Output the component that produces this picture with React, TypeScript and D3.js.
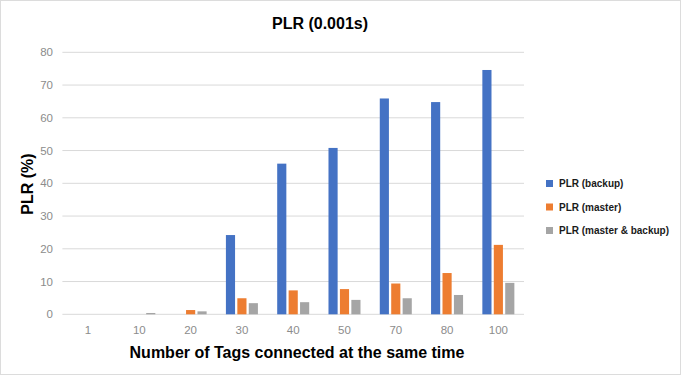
import React, { useEffect, useRef } from 'react';
import * as d3 from 'd3';

const categories = ['1', '10', '20', '30', '40', '50', '70', '80', '100'];
const backup = [0, 0, 0, 24.2, 46.0, 50.8, 65.9, 64.8, 74.6];
const master = [0, 0, 1.3, 4.9, 7.3, 7.7, 9.4, 12.6, 21.2];
const masterBackup = [0, 0.4, 0.9, 3.4, 3.7, 4.4, 4.9, 5.9, 9.6];
const seriesNames = ['PLR (backup)', 'PLR (master)', 'PLR (master & backup)'];
const yTicks = [0, 10, 20, 30, 40, 50, 60, 70, 80];

const colors = ['#4472c4', '#ed7d31', '#a5a5a5'];

function App() {
  const ref = useRef<SVGSVGElement>(null);

  useEffect(() => {
    const svg = d3.select(ref.current);
    svg.selectAll('*').remove();

    const font = 'Liberation Sans, Arial, sans-serif';
    const left = 62.4;
    const right = 524;
    const top = 52.3;
    const bottom = 314.3;

    svg.append('rect')
      .attr('x', 0.5).attr('y', 0.5)
      .attr('width', 680).attr('height', 374)
      .attr('fill', '#fff')
      .attr('stroke', '#dcdcdc');

    const x0 = d3.scaleBand().domain(categories).range([left, right])
      .paddingInner(0.376).paddingOuter(0.188);
    const x1 = d3.scaleBand().domain(['0', '1', '2']).range([0, x0.bandwidth()]).paddingInner(0.2);
    const y = d3.scaleLinear().domain([0, 80]).range([bottom, top]);

    // gridlines
    svg.append('g').selectAll('line')
      .data(yTicks)
      .enter()
      .append('line')
      .attr('x1', left).attr('x2', right)
      .attr('y1', d => y(d)).attr('y2', d => y(d))
      .attr('stroke', '#d9d9d9')
      .attr('stroke-width', 1);

    svg.append('g').selectAll('text')
      .data(yTicks)
      .enter()
      .append('text')
      .attr('x', 53)
      .attr('y', d => y(d) + 4)
      .attr('text-anchor', 'end')
      .attr('font-family', font)
      .attr('font-size', 11.5)
      .attr('fill', '#8c8c8c')
      .text(d => d);

    const series = [backup, master, masterBackup];
    series.forEach((values, s) => {
      svg.append('g').selectAll('rect')
        .data(values)
        .enter()
        .append('rect')
        .attr('x', (d, i) => (x0(categories[i]) as number) + (x1(String(s)) as number))
        .attr('y', d => y(d))
        .attr('width', x1.bandwidth())
        .attr('height', d => bottom - y(d))
        .attr('fill', colors[s]);
    });

    svg.append('g').selectAll('text')
      .data(categories)
      .enter()
      .append('text')
      .attr('x', d => (x0(d) as number) + x0.bandwidth() / 2)
      .attr('y', 334)
      .attr('text-anchor', 'middle')
      .attr('font-family', font)
      .attr('font-size', 11.5)
      .attr('fill', '#8c8c8c')
      .text(d => d);

    svg.append('text')
      .attr('x', 320).attr('y', 29)
      .attr('text-anchor', 'middle')
      .attr('font-family', font)
      .attr('font-weight', 'bold')
      .attr('font-size', 16)
      .attr('fill', '#000')
      .text('PLR (0.001s)');

    svg.append('text')
      .attr('x', 297).attr('y', 358)
      .attr('text-anchor', 'middle')
      .attr('font-family', font)
      .attr('font-weight', 'bold')
      .attr('font-size', 16)
      .attr('fill', '#000')
      .text('Number of Tags connected at the same time');

    svg.append('text')
      .attr('transform', 'translate(33,184) rotate(-90)')
      .attr('text-anchor', 'middle')
      .attr('font-family', font)
      .attr('font-weight', 'bold')
      .attr('font-size', 16)
      .attr('fill', '#000')
      .text('PLR (%)');

    const legend = svg.append('g').selectAll('g')
      .data(seriesNames)
      .enter()
      .append('g')
      .attr('transform', (d, i) => `translate(546,${183.5 + i * 23.5})`);

    legend.append('rect')
      .attr('x', 0).attr('y', -3.5)
      .attr('width', 7).attr('height', 7)
      .attr('fill', (d, i) => colors[i]);

    legend.append('text')
      .attr('x', 13).attr('y', 3.5)
      .attr('font-family', font)
      .attr('font-weight', 'bold')
      .attr('font-size', 10)
      .attr('fill', '#1a1a1a')
      .text(d => d);
  }, []);

  return (
    <svg ref={ref} width="681" height="375" style={{ position: 'absolute', left: 0, top: 0 }}></svg>
  );
}

export default App;
